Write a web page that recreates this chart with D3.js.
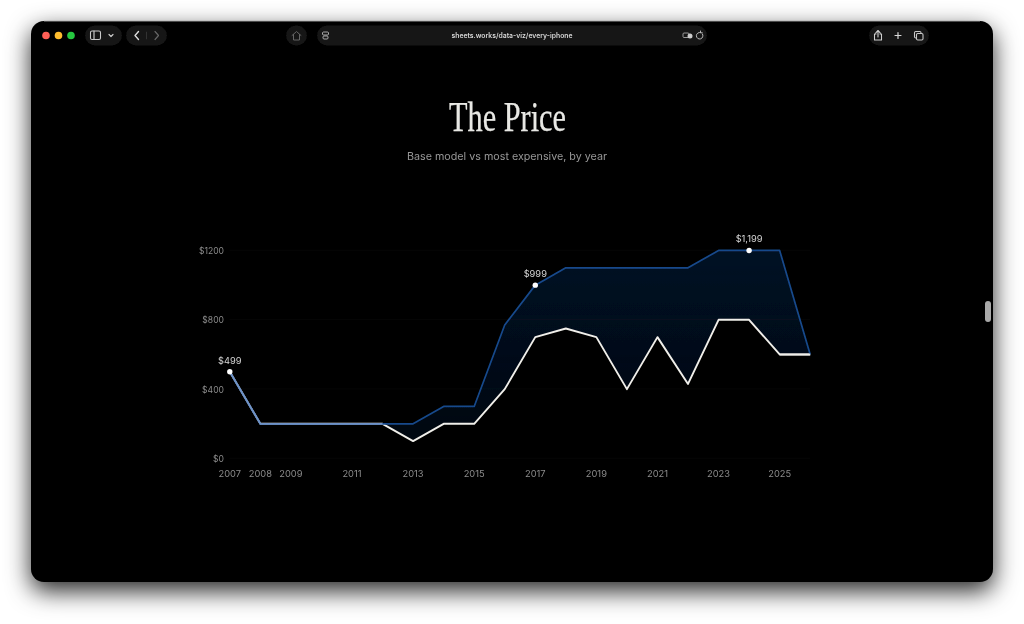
<!DOCTYPE html>
<html><head><meta charset="utf-8">
<style>html,body{margin:0;padding:0;background:#fff;overflow:hidden}svg{display:block}</style>
<script src="https://cdn.jsdelivr.net/npm/d3@7/dist/d3.min.js"></script></head>
<body><svg id="c" width="1024" height="624"></svg>
<script>
const years=[2007,2008,2009,2010,2011,2012,2013,2014,2015,2016,2017,2018,2019,2020,2021,2022,2023,2024,2025,2026];
const topPrice=[499,199,199,199,199,199,199,299,299,769,999,1099,1099,1099,1099,1099,1199,1199,1199,599];
const basePrice=[499,199,199,199,199,199,99,199,199,399,699,749,699,399,699,429,799,799,599,599];
const yTicks=[0,400,800,1200];
const xTicks=[2007,2008,2009,2011,2013,2015,2017,2019,2021,2023,2025];
const callouts=[{year:2007,v:499,label:"$499"},{year:2017,v:999,label:"$999"},{year:2024,v:1199,label:"$1,199"}];
const titleText="The Price", subtitleText="Base model vs most expensive, by year", urlText="sheets.works/data-viz/every-iphone";

const svg=d3.select("#c");
const defs=svg.append("defs");
const sh=defs.append("filter").attr("id","sh").attr("x","-10%").attr("y","-15%").attr("width","120%").attr("height","130%");
sh.append("feDropShadow").attr("dx",0).attr("dy",9).attr("stdDeviation",12).attr("flood-color","#000").attr("flood-opacity",.85);
defs.append("filter").attr("id","soft").append("feGaussianBlur").attr("stdDeviation",.4);
const grad=defs.append("linearGradient").attr("id","band").attr("x1",0).attr("x2",0).attr("y1",0).attr("y2",1);
grad.append("stop").attr("offset","0%").attr("stop-color","#0a2148").attr("stop-opacity",.5);
grad.append("stop").attr("offset","100%").attr("stop-color","#0a2148").attr("stop-opacity",.22);

svg.append("rect").attr("x",31).attr("y",21).attr("width",962).attr("height",561).attr("rx",13).attr("fill","#000").attr("filter","url(#sh)");
svg.append("line").attr("x1",44).attr("x2",980).attr("y1",21.3).attr("y2",21.3).attr("stroke","#777").attr("stroke-width",.8);

// browser chrome
const ch=svg.append("g").attr("filter","url(#soft)");
[["#ff5f57",46],["#febc2e",58.5],["#28c840",71]].forEach(d=>ch.append("circle").attr("cx",d[1]).attr("cy",35.5).attr("r",3.8).attr("fill",d[0]));
const pill=(x,w)=>ch.append("rect").attr("x",x).attr("y",25.5).attr("width",w).attr("height",20).attr("rx",10).attr("fill","#141414");
pill(85,37);pill(126,41);pill(286,21);pill(317,390);pill(869,60);
const ic=(d,c="#c9c9c9",w=1.2)=>ch.append("path").attr("d",d).attr("fill","none").attr("stroke",c).attr("stroke-width",w).attr("stroke-linecap","round").attr("stroke-linejoin","round");
ch.append("rect").attr("x",90.5).attr("y",31).attr("width",10).attr("height",8.5).attr("rx",1.5).attr("fill","none").attr("stroke","#c9c9c9").attr("stroke-width",1.1);
ic("M94 31V39.5");ic("M109 34.5l2 2 2-2");
ic("M138.5 31.5l-3.5 4 3.5 4","#ddd",1.4);ic("M155 31.5l3.5 4-3.5 4","#666",1.2);
ic("M146.5 32V39","#333",1);
ic("M292 35.5l4.5-4 4.5 4M293.5 34.5V40h6v-5.5","#666",1);
ch.append("rect").attr("x",322.5).attr("y",32).attr("width",6).attr("height",3).attr("rx",1).attr("fill","none").attr("stroke","#aaa").attr("stroke-width",1);
ch.append("rect").attr("x",323).attr("y",36).attr("width",5).attr("height",3).attr("rx",1).attr("fill","none").attr("stroke","#aaa").attr("stroke-width",1);
ch.append("text").attr("x",512).attr("y",38.2).attr("text-anchor","middle").attr("font-family","Inter").attr("font-weight",600).attr("font-size",7.2).attr("fill","#d8d8d8").attr("textLength",121).attr("lengthAdjust","spacingAndGlyphs").text(urlText);
ch.append("rect").attr("x",683).attr("y",33).attr("width",6).attr("height",4.5).attr("rx",1).attr("fill","none").attr("stroke","#aaa").attr("stroke-width",.9);
ch.append("circle").attr("cx",690).attr("cy",36).attr("r",2.5).attr("fill","#ccc");
ic("M702.5 34a3.3 3.3 0 1 1-2-1.5M700.5 31v1.8h1.8","#bbb",1);
ic("M878 31v6M875.8 32.8L878 30.5l2.2 2.3M876 34h-1.5v6h7v-6H880","#d0d0d0",1.1);
ic("M898 32.5v6M895 35.5h6","#d8d8d8",1.2);
ch.append("rect").attr("x",914.5).attr("y",31.5).attr("width",6.5).attr("height",6.5).attr("rx",1.2).attr("fill","none").attr("stroke","#c8c8c8").attr("stroke-width",1.1);
ch.append("rect").attr("x",916.5).attr("y",33.5).attr("width",6.5).attr("height",6.5).attr("rx",1.2).attr("fill","#141414").attr("stroke","#c8c8c8").attr("stroke-width",1.1);
svg.append("rect").attr("x",985).attr("y",301).attr("width",6).attr("height",21).attr("rx",3).attr("fill","#a9a9a9");

// titles
const txt=svg.append("g").attr("filter","url(#soft)");
txt.append("text").attr("x",507.5).attr("y",131).attr("text-anchor","middle").attr("font-family","Liberation Serif").attr("font-size",42).attr("fill","#e8e8e4").attr("stroke","#e8e8e4").attr("stroke-width",.25).attr("textLength",117).attr("lengthAdjust","spacingAndGlyphs").text(titleText);
txt.append("text").attr("x",507).attr("y",160).attr("text-anchor","middle").attr("font-family","Inter").attr("font-size",10.8).attr("fill","#989898").attr("textLength",200).attr("lengthAdjust","spacingAndGlyphs").text(subtitleText);

// chart
const x=d3.scaleLinear().domain([2007,2026]).range([229.8,810.2]);
const y=d3.scaleLinear().domain([0,1200]).range([458.3,250.3]);
const plot=svg.append("g").attr("filter","url(#soft)");
plot.selectAll(".g").data(yTicks).join("line").attr("x1",229.5).attr("x2",810).attr("y1",d=>y(d)).attr("y2",d=>y(d)).attr("stroke","#fff").attr("stroke-opacity",.025);
const yAxis=d3.axisLeft(y).tickValues(yTicks).tickFormat(d=>"$"+d).tickSize(0).tickPadding(0);
const ya=plot.append("g").attr("transform","translate(224,0.5)").call(yAxis);
const xAxis=d3.axisBottom(x).tickValues(xTicks).tickFormat(d3.format("d")).tickSize(0).tickPadding(0);
const xa=plot.append("g").attr("transform","translate(-0.5,470.5)").call(xAxis);
[ya,xa].forEach(a=>{a.select(".domain").remove();a.selectAll("text").attr("font-family","Inter").attr("font-size",9.3).attr("fill","#8c8c8c");});
ya.selectAll("text").attr("font-size",8.6);

const idx=d3.range(years.length);
plot.append("path").attr("fill","url(#band)").attr("d",d3.area().x(i=>x(years[i])).y0(i=>y(basePrice[i])).y1(i=>y(topPrice[i]))(idx));
const ln=d3.line().x(i=>x(years[i]));
plot.append("path").attr("fill","none").attr("stroke","#f0efea").attr("stroke-width",1.9).attr("stroke-linejoin","round").attr("d",ln.y(i=>y(basePrice[i]))(idx));
plot.append("path").attr("fill","none").attr("stroke","#174a8c").attr("stroke-width",1.7).attr("stroke-linejoin","round").attr("d",ln.y(i=>y(topPrice[i]))(idx));
// region where both series coincide reads as a lighter blue
const shared=idx.filter(i=>topPrice[i]===basePrice[i]&&years[i]<2013);
plot.append("path").attr("fill","none").attr("stroke","#6f93c8").attr("stroke-width",1.8).attr("d",ln.y(i=>y(topPrice[i]))(shared));
// the last segment ends on the white line, as in the reference
const lastPair=idx.slice(-2);
plot.append("path").attr("fill","none").attr("stroke","#f0efea").attr("stroke-width",1.9).attr("d",ln.y(i=>y(basePrice[i]))(lastPair));

plot.selectAll(".dot").data(callouts).join("circle").attr("cx",d=>x(d.year)).attr("cy",d=>y(d.v)).attr("r",2.7).attr("fill","#fff");
plot.selectAll(".lab").data(callouts).join("text").attr("x",d=>x(d.year)).attr("y",d=>y(d.v)-8.3).attr("text-anchor","middle").attr("font-family","Inter").attr("font-size",9.3).attr("fill","#d6d6d6").text(d=>d.label);
</script></body></html>
